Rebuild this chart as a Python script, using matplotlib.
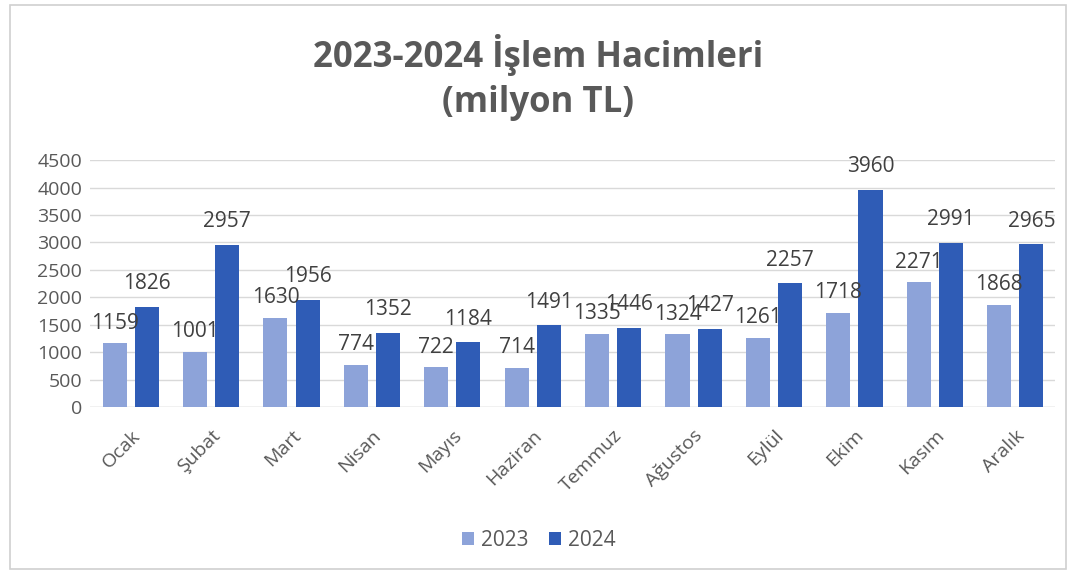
import numpy as np
import matplotlib.pyplot as plt
from matplotlib.patches import Rectangle

aylar = ['Ocak', 'Şubat', 'Mart', 'Nisan', 'Mayıs', 'Haziran', 'Temmuz',
         'Ağustos', 'Eylül', 'Ekim', 'Kasım', 'Aralık']
hacim_2023 = [1159, 1001, 1630, 774, 722, 714, 1335, 1324, 1261, 1718, 2271, 1868]
hacim_2024 = [1826, 2957, 1956, 1352, 1184, 1491, 1446, 1427, 2257, 3960, 2991, 2965]

plt.rcParams['font.family'] = ['Open Sans', 'DejaVu Sans']

renk_2023 = '#8da3d9'
renk_2024 = '#2f5cb6'
gri = '#595959'

fig = plt.figure(figsize=(10.77, 5.74), dpi=100)
ax = fig.add_axes([0.084, 0.291, 0.896, 0.43])

x = np.arange(len(aylar))
w = 0.3
b1 = ax.bar(x - 0.2, hacim_2023, w, color=renk_2023, label='2023', zorder=2)
b2 = ax.bar(x + 0.2, hacim_2024, w, color=renk_2024, label='2024', zorder=2)

# etiketler (orijinalde de ust uste biniyorlar)
for r, v in zip(b1, hacim_2023):
    ax.annotate(str(v), (r.get_x() + r.get_width() / 2, v), xytext=(0, 7),
                textcoords='offset points', ha='center', va='bottom',
                fontsize=15, color='#404040', zorder=3)
for r, v in zip(b2, hacim_2024):
    ax.annotate(str(v), (r.get_x() + r.get_width() / 2, v), xytext=(0, 9),
                textcoords='offset points', ha='center', va='bottom',
                fontsize=15, color='#404040', zorder=3)

ax.set_xlim(-0.5, 11.5)
ax.set_ylim(0, 4500)
ax.set_yticks(range(0, 4501, 500))
ax.set_xticks(x)
ax.set_xticklabels(aylar, rotation=45, ha='right', rotation_mode='anchor')
ax.tick_params(axis='both', length=0, labelsize=14, colors=gri)
ax.tick_params(axis='x', pad=14)
ax.tick_params(axis='y', pad=6)
ax.grid(axis='y', color='#d9d9d9', linewidth=1, zorder=0)
for s in ax.spines.values():
    s.set_visible(False)
ax.axhline(0, color='#d9d9d9', linewidth=1, zorder=1)

fig.text(0.5, 0.905, '2023-2024 İşlem Hacimleri', ha='center', va='center',
         fontsize=25, fontweight='bold', color=gri)
fig.text(0.5, 0.82, '(milyon TL)', ha='center', va='center',
         fontsize=25, fontweight='bold', color=gri)

fig.legend(handles=[b1, b2], labels=['2023', '2024'], loc='center',
           bbox_to_anchor=(0.5, 0.058), ncol=2, frameon=False, fontsize=15,
           handlelength=0.6, handleheight=0.6, handletextpad=0.3,
           columnspacing=1.0, labelcolor=gri)

# cerceve
fig.add_artist(Rectangle((0.009, 0.008), 0.981, 0.984, transform=fig.transFigure,
                         fill=False, edgecolor='#d0d0d0', linewidth=1.2))

fig.savefig('out.png', dpi=100)
